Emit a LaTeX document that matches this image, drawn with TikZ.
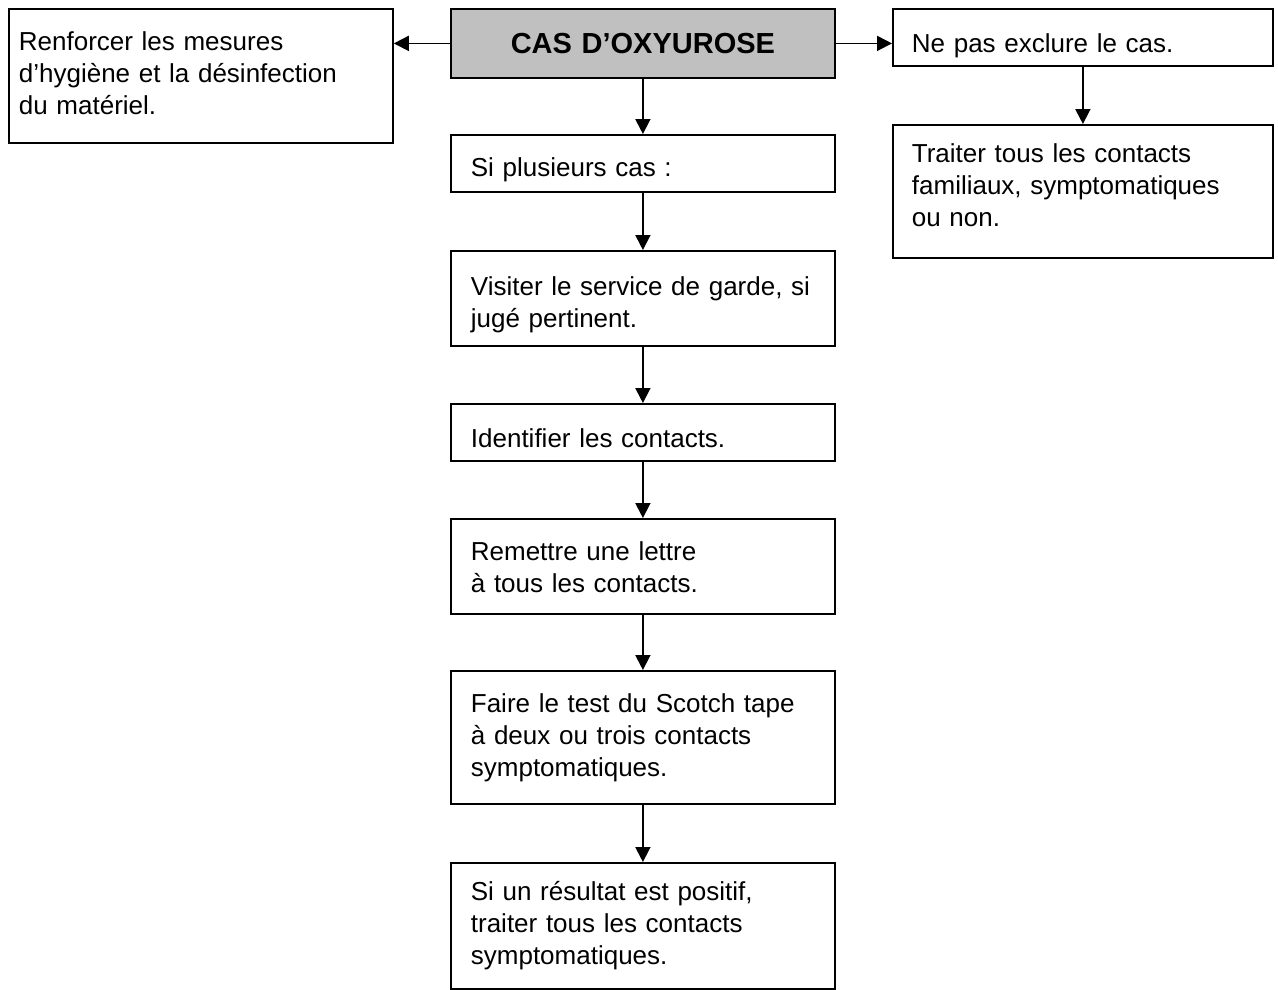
\documentclass[tikz,border=0pt]{standalone}
\usepackage{fontspec}
\setmainfont{Liberation Sans}
\usepackage{tikz}
\usetikzlibrary{arrows.meta, positioning}
\definecolor{gris}{RGB}{192, 192, 192}
\newcommand{\corps}{\fontsize{26}{32}\selectfont}
\newcommand{\titre}{\fontsize{29}{32}\selectfont\bfseries}

\begin{document}
\begin{tikzpicture}[
        x=1pt, y=-1pt,
        every node/.style={font=\corps, align=left},
        boite/.style={draw=black, line width=1.8pt, anchor=north west, inner ysep=0pt, inner xsep=20pt, text width=344pt},
        fleche/.style={-{Triangle[length=15pt, width=15pt]}, line width=1.8pt}
    ]
        \useasboundingbox (0, 0) rectangle (1278, 989);

        % Ligne du haut : cas + deux branches
        \node[boite, fill=gris, font=\titre, align=center, text height=45pt, text depth=24pt] (cas) at (450, 8) {CAS D’OXYUROSE};
        \node[boite, inner xsep=10pt, text width=364pt, text height=42pt, text depth=92pt] (hyg) at (8, 8) {Renforcer les mesures\\d’hygiène et la désinfection\\du matériel.};
        \node[boite, inner xsep=19pt, text width=342pt, text height=44pt, text depth=13pt] (excl) at (892, 8) {Ne pas exclure le cas.};
        \node[boite, inner xsep=19pt, text width=342pt, text height=38pt, text depth=95pt] (trait) at (892, 124) {Traiter tous les contacts\\familiaux, symptomatiques\\ou non.};

        \draw[fleche] (cas.west) -- (cas.west -| hyg.east);
        \draw[fleche] (cas.east) -- (cas.east -| excl.west);
        \draw[fleche] (excl) -- (trait);

        % Colonne centrale
        \node[boite, text height=42pt, text depth=15pt] (plus) at (450, 134) {Si plusieurs cas :};
        \node[boite, text height=45pt, text depth=50pt] (visit) at (450, 250) {Visiter le service de garde,~si\\jugé pertinent.};
        \node[boite, text height=44pt, text depth=13pt] (ident) at (450, 403) {Identifier les contacts.};
        \node[boite, text height=42pt, text depth=53pt] (lettre) at (450, 518) {Remettre une lettre\\à tous les contacts.};
        \node[boite, text height=42pt, text depth=91pt] (test) at (450, 670) {Faire le test du Scotch tape\\à deux ou trois contacts\\symptomatiques.};
        \node[boite, text height=38pt, text depth=88pt] (res) at (450, 862) {Si un résultat est positif,\\traiter tous les contacts\\symptomatiques.};

        \draw[fleche] (cas) -- (plus);
        \draw[fleche] (plus) -- (visit);
        \draw[fleche] (visit) -- (ident);
        \draw[fleche] (ident) -- (lettre);
        \draw[fleche] (lettre) -- (test);
        \draw[fleche] (test) -- (res);
    \end{tikzpicture}
\end{document}
